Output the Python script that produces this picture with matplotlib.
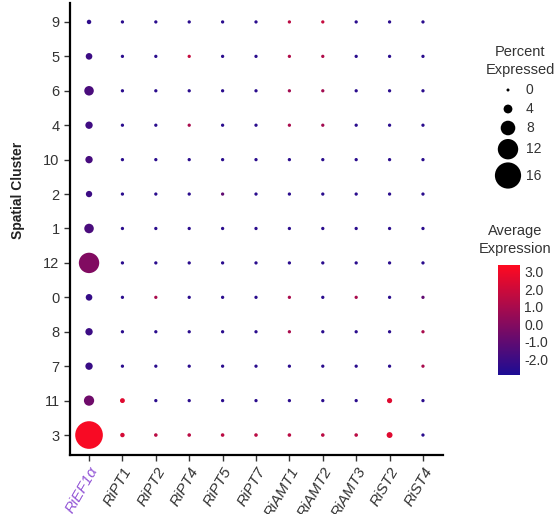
import numpy as np
import matplotlib
matplotlib.use("Agg")
import matplotlib.pyplot as plt
from matplotlib.colors import LinearSegmentedColormap, Normalize

plt.rcParams['font.family'] = ['Liberation Sans', 'DejaVu Sans']

genes = ["RiEF1α", "RiPT1", "RiPT2", "RiPT4", "RiPT5", "RiPT7",
         "RiAMT1", "RiAMT2", "RiAMT3", "RiST2", "RiST4"]
# clusters from top to bottom, as in the picture
clusters = ["9", "5", "6", "4", "10", "2", "1", "12", "0", "8", "7", "11", "3"]

# percent expressed (rows = clusters top->bottom, cols = genes)
pct = np.array([
    [1.0, 0.2, 0.2, 0.2, 0.2, 0.2, 0.2, 0.2, 0.2, 0.2, 0.2],
    [2.5, 0.2, 0.2, 0.2, 0.2, 0.2, 0.2, 0.2, 0.2, 0.2, 0.2],
    [4.5, 0.2, 0.2, 0.2, 0.2, 0.2, 0.2, 0.2, 0.2, 0.2, 0.2],
    [3.0, 0.2, 0.2, 0.2, 0.2, 0.2, 0.2, 0.2, 0.2, 0.2, 0.2],
    [3.0, 0.2, 0.2, 0.2, 0.2, 0.2, 0.2, 0.2, 0.2, 0.2, 0.2],
    [2.3, 0.2, 0.2, 0.2, 0.2, 0.2, 0.2, 0.2, 0.2, 0.2, 0.2],
    [4.5, 0.2, 0.2, 0.2, 0.2, 0.2, 0.2, 0.2, 0.2, 0.2, 0.2],
    [12.0, 0.2, 0.2, 0.2, 0.2, 0.2, 0.2, 0.2, 0.2, 0.2, 0.2],
    [2.5, 0.2, 0.2, 0.2, 0.2, 0.2, 0.2, 0.2, 0.2, 0.2, 0.2],
    [3.0, 0.2, 0.2, 0.2, 0.2, 0.2, 0.2, 0.2, 0.2, 0.2, 0.2],
    [3.0, 0.2, 0.2, 0.2, 0.2, 0.2, 0.2, 0.2, 0.2, 0.2, 0.2],
    [5.0, 1.3, 0.2, 0.2, 0.2, 0.2, 0.2, 0.2, 0.2, 1.5, 0.2],
    [17.0, 1.0, 0.4, 0.4, 0.4, 0.4, 0.4, 0.4, 0.4, 2.0, 0.2],
])

# average expression
avg = np.array([
    [-2.4, -2.5, -2.5, -2.5, -2.5, -2.5, 1.5, 1.8, -2.5, -2.5, -2.5],
    [-2.0, -2.5, -2.5, 1.8, -2.5, -2.5, 1.2, 1.2, -2.5, -2.5, -2.5],
    [-1.6, -2.5, -2.5, -2.5, -2.5, -2.5, 0.8, 0.8, -2.5, -2.5, -2.5],
    [-1.9, -2.5, -2.5, 1.0, -2.5, -2.5, 1.0, 0.8, -2.5, -2.5, -2.5],
    [-1.7, -2.5, -2.5, -2.5, -2.5, -2.5, -2.5, -2.5, -2.5, -2.5, -2.5],
    [-2.0, -2.5, -2.5, -2.5, -1.0, -2.5, -2.5, -2.5, -2.5, -2.5, -2.5],
    [-1.6, -2.5, -2.5, -2.5, -2.5, -2.5, -2.5, -2.5, -2.5, -2.5, -2.5],
    [-0.1, -2.5, -2.5, -2.5, -2.5, -2.5, -2.5, -2.5, -2.5, -2.5, -2.5],
    [-2.2, -2.5, 1.0, -2.5, -2.5, -2.5, 1.0, -2.5, 1.0, -2.5, -1.0],
    [-2.0, -2.5, -2.5, -2.5, -2.5, -2.5, 1.0, -2.5, -2.5, -2.5, 1.0],
    [-2.1, -2.5, -2.5, -2.5, -2.5, -2.5, -2.5, -2.5, -2.5, -2.5, 1.0],
    [-0.6, 2.5, -2.5, -2.5, -2.5, -2.5, -2.5, -2.5, -2.5, 2.5, -2.5],
    [3.2, 2.2, 1.5, 1.5, 1.5, 1.5, 1.5, 1.5, 1.5, 2.5, -2.5],
])

size_breaks = [0, 4, 8, 12, 16]
cbar_ticks = [3.0, 2.0, 1.0, 0.0, -1.0, -2.0]

W, H, DPI = 554, 514, 100
cmap = LinearSegmentedColormap.from_list("br", ["#1c0c94", "#ff0a20"])
norm = Normalize(vmin=-2.9, vmax=3.4)


def diam_px(p):
    return 3.0 + 1.45 * np.asarray(p, dtype=float)


def area(p):
    return (diam_px(p) * 72.0 / DPI) ** 2


fig = plt.figure(figsize=(W / DPI, H / DPI), dpi=DPI)
ax = fig.add_axes([70 / W, 1 - 455 / H, (443 - 70) / W, (455 - 3) / H])

nrow = len(clusters)
for i in range(nrow):
    y = nrow - 1 - i
    ax.scatter(np.arange(len(genes)), np.full(len(genes), y), s=area(pct[i]),
               c=avg[i], cmap=cmap, norm=norm, linewidths=0, zorder=3)

ax.set_xlim(-0.57, len(genes) - 0.4)
ax.set_ylim(-0.58, nrow - 1 + 0.55)
ax.set_yticks(range(nrow))
ax.set_yticklabels(clusters[::-1], fontsize=10.5, color="#333333")
ax.set_xticks(range(len(genes)))
ax.set_xticklabels(genes, fontsize=11, color="#333333", style="italic",
                   rotation=60, ha="right", va="top", rotation_mode="anchor")
ax.get_xticklabels()[0].set_color("#9356d6")
for s in ["top", "right"]:
    ax.spines[s].set_visible(False)
for s in ["left", "bottom"]:
    ax.spines[s].set_linewidth(1.6)
ax.tick_params(axis="both", length=4, width=1, color="#333333")
ax.tick_params(axis="x", pad=3)

fig.text(18 / W, 1 - 190 / H, "Spatial Cluster", rotation=90, fontsize=10,
         fontweight="bold", ha="center", va="center", color="#222222")

# size legend
lax = fig.add_axes([0, 0, 1, 1], facecolor="none")
lax.set_xlim(0, W)
lax.set_ylim(H, 0)
lax.axis("off")
lax.text(520, 61, "Percent\nExpressed", ha="center", va="center",
         fontsize=10.5, color="#333333", linespacing=1.4)
d = diam_px(size_breaks)
heights = np.maximum(19, d + 3)
centers = 90 - heights[0] / 2 + np.cumsum(heights) - heights / 2
lax.scatter(np.full(len(size_breaks), 508), centers, s=area(size_breaks),
            c="black", linewidths=0)
for b, yc in zip(size_breaks, centers):
    lax.text(526, yc, str(b), ha="left", va="center", fontsize=10, color="#333333")

lax.text(515, 240, "Average\nExpression", ha="center", va="center",
         fontsize=10.5, color="#333333", linespacing=1.3)

cax = fig.add_axes([498 / W, 1 - 375 / H, 22 / W, 110 / H])
cb = fig.colorbar(plt.cm.ScalarMappable(norm=norm, cmap=cmap), cax=cax)
cb.outline.set_visible(False)
cb.set_ticks(cbar_ticks)
cb.set_ticklabels(["%.1f" % t for t in cbar_ticks])
cax.tick_params(length=0, labelsize=10, labelcolor="#333333", pad=3)

fig.savefig("out.png", dpi=DPI)
